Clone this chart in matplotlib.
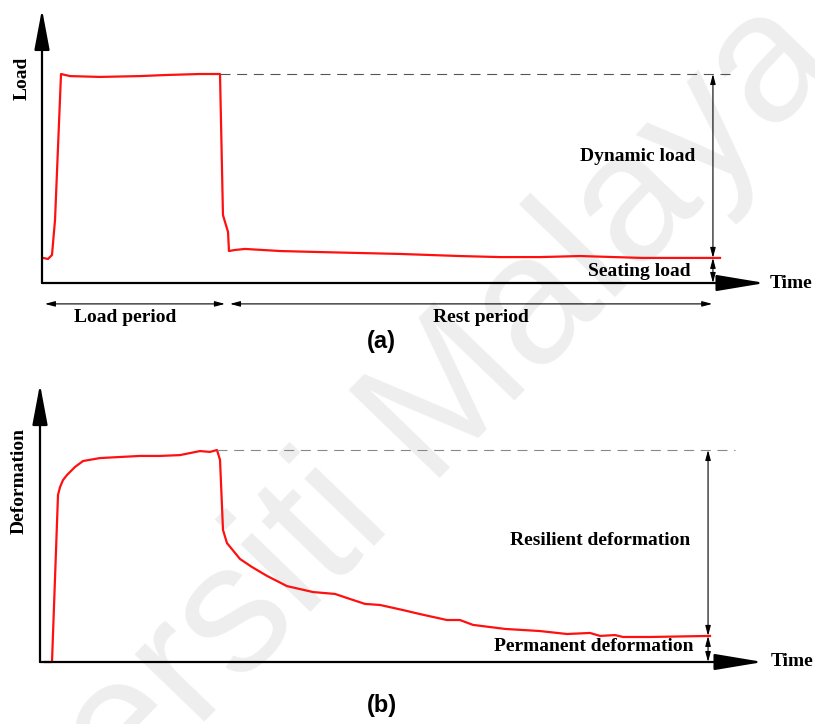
import matplotlib
matplotlib.use("Agg")
import matplotlib.pyplot as plt

# (a) load pulse: time (arbitrary units) and load (fraction of peak)
load_t = [0.14, 0.83, 1.38, 1.80, 2.63, 3.87, 8.02, 13.55, 17.01, 21.85, 24.62,
          25.03, 25.73, 25.86, 26.69, 28.08, 32.92, 38.45, 49.52, 57.81, 63.35,
          68.88, 74.41, 82.99, 93.78]
load_v = [0.120, 0.115, 0.134, 0.301, 1.000, 0.990, 0.986, 0.990, 0.995, 1.000,
          1.000, 0.325, 0.244, 0.153, 0.158, 0.163, 0.153, 0.148, 0.139, 0.129,
          0.124, 0.124, 0.129, 0.120, 0.120]
seat_load = 0.12
peak_load = 1.0

# (b) deformation response
def_t = [0.69, 1.66, 2.49, 2.77, 3.18, 3.73, 4.84, 5.95, 8.30, 11.07, 13.83, 16.60,
         19.36, 22.13, 23.51, 24.48, 24.90, 25.31, 25.86, 27.66, 29.32, 31.40,
         34.16, 37.76, 40.80, 42.46, 44.95, 47.03, 50.21, 52.56, 56.29, 58.09,
         59.89, 64.32, 69.16, 72.89, 76.07, 77.46, 79.53, 80.64, 84.37, 92.67]
def_v = [0.0, 0.0, 0.788, 0.825, 0.858, 0.882, 0.920, 0.948, 0.962, 0.967, 0.972,
         0.972, 0.976, 0.995, 0.991, 1.000, 0.953, 0.623, 0.561, 0.486, 0.448,
         0.406, 0.358, 0.330, 0.321, 0.302, 0.274, 0.269, 0.245, 0.226, 0.198,
         0.198, 0.175, 0.156, 0.146, 0.132, 0.137, 0.123, 0.127, 0.118, 0.118,
         0.123]
perm_def = 0.123
peak_def = 1.0

W, H = 815, 724
SERIF = dict(family="Liberation Serif", fontweight="bold", fontsize=14)
RED = "#ff1010"

fig = plt.figure(figsize=(W / 100, H / 100), dpi=100)
fig.patch.set_facecolor("white")

# faint diagonal watermark behind everything
fig.text(0.395, 0.265, "Universiti Malaya", rotation=46, fontsize=132,
         family="Liberation Sans", color="#eeeeee", ha="center", va="center",
         zorder=-1)


def make_axes(x0, y0, h):
    # x0, y0: origin in pixels from top-left, h: pixel height of the unit level
    ax = fig.add_axes([x0 / W, (H - y0) / H, 723 / W, h / H])
    ax.set_xlim(0, 100)
    ax.set_ylim(0, 1)
    ax.axis("off")
    ax.patch.set_alpha(0)
    return ax


def axis_arrows(ax, ytop):
    big = dict(color="k", lw=1.6, shrinkA=0, shrinkB=0, mutation_scale=10)
    ax.annotate("", xy=(0, ytop), xytext=(0, 0), annotation_clip=False,
                arrowprops=dict(arrowstyle="-|>,head_length=2.5,head_width=0.47", **big))
    ax.annotate("", xy=(100, 0), xytext=(0, 0), annotation_clip=False,
                arrowprops=dict(arrowstyle="-|>,head_length=3.0,head_width=0.5", **big))


def dim_arrow(ax, x0, y0, x1, y1):
    ax.annotate("", xy=(x1, y1), xytext=(x0, y0), annotation_clip=False,
                arrowprops=dict(arrowstyle="<|-|>,head_length=0.6,head_width=0.16",
                                color="k", lw=0.8, shrinkA=0, shrinkB=0,
                                mutation_scale=10))


# ---- (a) load ----
ax1 = make_axes(42, 283, 209)
axis_arrows(ax1, 1.31)
ax1.plot(load_t, load_v, color=RED, lw=1.6, clip_on=False)
ax1.plot([24.6, 95.9], [peak_load, peak_load], color="#555555", lw=0.8,
         dashes=(9, 6), clip_on=False)
dim_arrow(ax1, 92.8, peak_load, 92.8, seat_load)
dim_arrow(ax1, 92.8, seat_load, 92.8, 0)
dim_arrow(ax1, 0.4, -0.10, 25.3, -0.10)
dim_arrow(ax1, 26.0, -0.10, 92.7, -0.10)
ax1.text(82.4, 0.603, "Dynamic load", ha="center", va="center", **SERIF)
ax1.text(82.6, 0.053, "Seating load", ha="center", va="center", **SERIF)
ax1.text(100.7, 0.0, "Time", ha="left", va="center", **SERIF)
ax1.text(11.5, -0.163, "Load period", ha="center", va="center", **SERIF)
ax1.text(60.7, -0.163, "Rest period", ha="center", va="center", **SERIF)
ax1.text(-2.77, 0.98, "Load", rotation=90, ha="center", va="center", **SERIF)
ax1.text(46.9, -0.282, "(a)", ha="center", va="center", family="Liberation Sans",
         fontweight="bold", fontsize=17)

# ---- (b) deformation ----
ax2 = make_axes(40, 662, 212)
axis_arrows(ax2, 1.31)
ax2.plot(def_t, def_v, color=RED, lw=1.6, clip_on=False)
ax2.plot([24.5, 96.1], [peak_def, peak_def], color="#888888", lw=0.8,
         dashes=(9, 6), clip_on=False)
dim_arrow(ax2, 92.4, peak_def, 92.4, perm_def)
dim_arrow(ax2, 92.4, perm_def, 92.4, 0)
ax2.text(77.5, 0.575, "Resilient deformation", ha="center", va="center", **SERIF)
ax2.text(76.6, 0.071, "Permanent deformation", ha="center", va="center", **SERIF)
ax2.text(101.0, 0.0, "Time", ha="left", va="center", **SERIF)
ax2.text(-2.9, 0.854, "Deformation", rotation=90, ha="center", va="center", **SERIF)
ax2.text(47.3, -0.203, "(b)", ha="center", va="center", family="Liberation Sans",
         fontweight="bold", fontsize=17)

fig.savefig("out.png", dpi=100, facecolor="white")
